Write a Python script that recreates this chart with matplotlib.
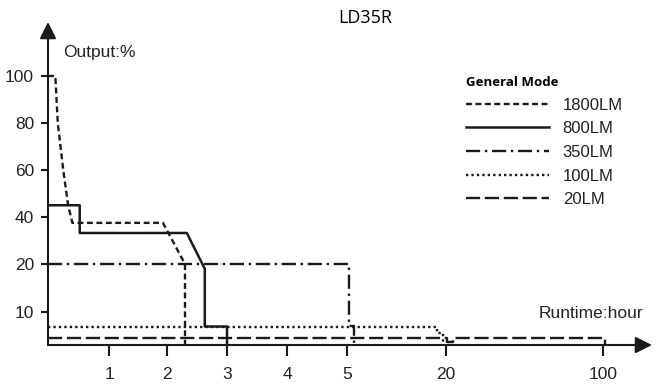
import numpy as np
import matplotlib
matplotlib.use('Agg')
import matplotlib.pyplot as plt

plt.rcParams['font.family'] = ['Liberation Sans', 'DejaVu Sans']

# runtime (hours) / output (%)
x_1800 = [0, 0.12, 0.16, 0.25, 0.33, 0.4, 1.93, 2.3, 2.3]
y_1800 = [100, 100, 80, 60, 45, 37.5, 37.5, 20, 0]

x_800 = [0, 0.52, 0.52, 2.33, 2.63, 2.63, 3.0, 3.0]
y_800 = [45, 45, 33.2, 33.2, 19, 5.6, 5.6, 0]

x_350 = [0, 5.35, 5.35, 6.1, 6.1]
y_350 = [20, 20, 5.8, 5.8, 0]

x_100 = [0, 18.6, 18.6, 19.6, 19.6]
y_100 = [5.6, 5.6, 3.5, 3.5, 0]

x_20 = [0, 20.5, 20.5, 23.5, 23.5, 101, 101]
y_20 = [2.2, 2.2, 0.9, 0.9, 2.2, 2.2, 0]

labels = ['1800LM', '800LM', '350LM', '100LM', '20LM']
x_ticks = [1, 2, 3, 4, 5, 20, 100]
y_ticks = [10, 20, 40, 60, 80, 100]

# broken (piecewise linear) axes as in the original drawing
xv = [-1e4, 0, 1, 2, 3, 4, 5, 20, 100, 130, 1e4]
xp = [-6.1e5, 0, 61, 119, 179, 239, 299, 398, 555, 604, 1.9e4]
yv = [-1e4, 0, 10, 20, 40, 60, 80, 100, 135, 1e4]
yp = [-3.3e4, 0, 33, 81, 128, 175, 222, 269, 323, 1.6e4]


def fx(v):
    return np.interp(v, xv, xp)


def ix(p):
    return np.interp(p, xp, xv)


def fy(v):
    return np.interp(v, yv, yp)


def iy(p):
    return np.interp(p, yp, yv)


fig = plt.figure(figsize=(6.63, 3.87), dpi=100)
ax = fig.add_axes([48 / 663, 42 / 387, 604 / 663, 323 / 387])
ax.set_xscale('function', functions=(fx, ix))
ax.set_yscale('function', functions=(fy, iy))
ax.set_xlim(0, 130)
ax.set_ylim(0, 135)

c = '#1a1a1a'
ax.plot(x_1800, y_1800, color=c, lw=1.7, ls=(0, (2.5, 1.5)), label=labels[0])
ax.plot(x_800, y_800, color=c, lw=1.8, ls='-', label=labels[1])
ax.plot(x_350, y_350, color=c, lw=1.7, ls=(0, (6, 2, 1, 2)), label=labels[2])
ax.plot(x_100, y_100, color=c, lw=1.7, ls=(0, (1, 1.3)), label=labels[3])
ax.plot(x_20, y_20, color=c, lw=1.7, ls=(0, (6, 2)), label=labels[4])

for s in ax.spines.values():
    s.set_visible(False)
ax.annotate('', xy=(1, 0), xytext=(0, 0), xycoords='axes fraction',
            arrowprops=dict(arrowstyle='-|>,head_length=1.0,head_width=0.5',
                            color=c, lw=1.5, mutation_scale=10, shrinkA=0, shrinkB=0))
ax.annotate('', xy=(0, 1), xytext=(0, 0), xycoords='axes fraction',
            arrowprops=dict(arrowstyle='-|>,head_length=1.0,head_width=0.5',
                            color=c, lw=1.5, mutation_scale=10, shrinkA=0, shrinkB=0))

ax.set_xticks(x_ticks)
ax.set_xticklabels([str(t) for t in x_ticks])
ax.set_yticks(y_ticks)
ax.set_yticklabels([str(t) for t in y_ticks])
ax.minorticks_off()
ax.tick_params(axis='x', length=8, width=1.5, color=c, labelsize=12.5, pad=8, labelcolor='#222')
ax.tick_params(axis='y', length=5, width=1.5, color=c, labelsize=12.5, pad=5, labelcolor='#222')

fig.text(63 / 663, 1 - 52 / 387, 'Output:%', fontsize=12.5, va='center', ha='left', color='#222')
fig.text(643 / 663, 1 - 313 / 387, 'Runtime:hour', fontsize=12.5, va='center', ha='right', color='#222')
fig.text(365 / 663, 1 - 18 / 387, 'LD35R', fontsize=13, va='center', ha='center',
         family=['Open Sans', 'DejaVu Sans'], color='black')

leg = ax.legend(loc='upper left', bbox_to_anchor=(466 / 663, 1 - 76 / 387),
                bbox_transform=fig.transFigure, frameon=False, fontsize=12,
                handlelength=5.0, handletextpad=0.8, labelspacing=0.52,
                borderpad=0, borderaxespad=0, title='General Mode', alignment='left')
leg.get_title().set_fontweight('bold')
leg.get_title().set_fontsize(9.5)
leg.get_title().set_family(['Open Sans', 'DejaVu Sans'])
for t in leg.get_texts():
    t.set_color('#222')

fig.savefig('out.png', dpi=100)
